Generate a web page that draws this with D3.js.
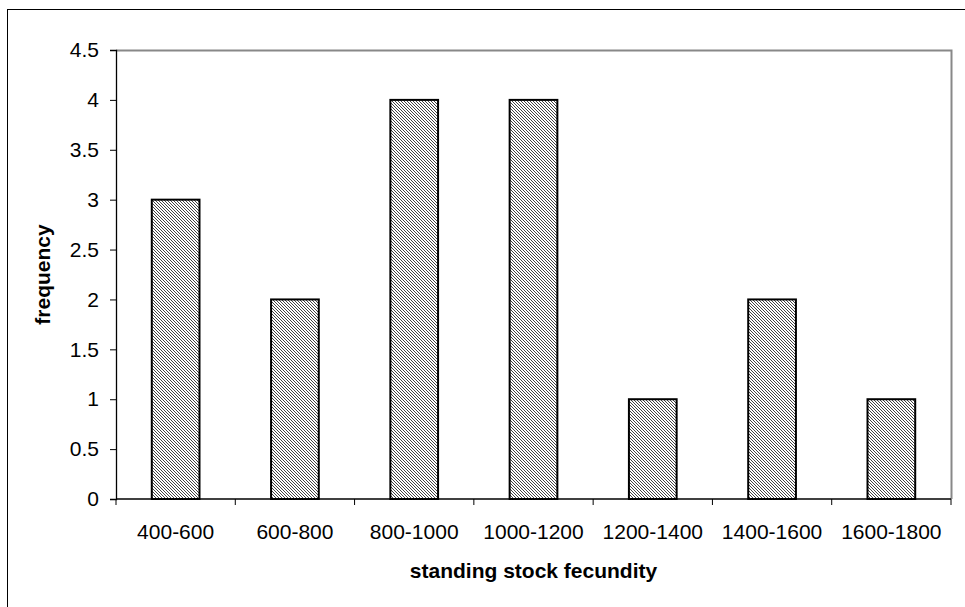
<!DOCTYPE html>
<html>
<head>
<meta charset="utf-8">
<script src="https://cdn.jsdelivr.net/npm/d3@7"></script>
<style>
  html, body { margin: 0; padding: 0; background: #fff; }
  svg { display: block; font-family: "Liberation Sans", Arial, sans-serif; }
</style>
</head>
<body>
<div id="chart"></div>
<script>
const categories = ["400-600", "600-800", "800-1000", "1000-1200", "1200-1400", "1400-1600", "1600-1800"];
const frequency = [3, 2, 4, 4, 1, 2, 1];
const yTicks = [0, 0.5, 1, 1.5, 2, 2.5, 3, 3.5, 4, 4.5];

const width = 965;
const height = 607;
const margin = { top: 50, right: 14, bottom: 108, left: 116 };

const svg = d3.select("#chart")
  .append("svg")
  .attr("width", width)
  .attr("height", height);

// outer chart border (right/bottom fall outside the window)
svg.append("rect")
  .attr("x", 7.5)
  .attr("y", 9.5)
  .attr("width", width)
  .attr("height", height)
  .attr("fill", "none")
  .attr("stroke", "#000")
  .attr("stroke-width", 1);

// diagonal hatch fill
const pattern = svg.append("defs")
  .append("pattern")
  .attr("id", "hatch")
  .attr("patternUnits", "userSpaceOnUse")
  .attr("width", 3)
  .attr("height", 3);
pattern.append("rect").attr("width", 3).attr("height", 3).attr("fill", "#fff");
pattern.append("path")
  .attr("d", "M-1,-1 L4,4 M-1,2 L1,4 M2,-1 L4,1")
  .attr("stroke", "#444")
  .attr("stroke-width", 1);

const x = d3.scaleBand()
  .domain(categories)
  .range([margin.left, width - margin.right])
  .paddingInner(0.6)
  .paddingOuter(0.3);

const xEdge = d3.scaleLinear()
  .domain([0, categories.length])
  .range([margin.left, width - margin.right]);

const y = d3.scaleLinear()
  .domain([0, 4.5])
  .range([height - margin.bottom, margin.top]);

// plot area frame (top/right in grey)
svg.append("path")
  .attr("d", `M${margin.left},${margin.top + 0.5} H${width - margin.right + 0.5} V${height - margin.bottom}`)
  .attr("fill", "none")
  .attr("stroke", "#888")
  .attr("stroke-width", 2);

svg.append("g")
  .selectAll("rect")
  .data(frequency)
  .join("rect")
  .attr("x", (d, i) => x(categories[i]))
  .attr("y", (d) => y(d))
  .attr("width", x.bandwidth())
  .attr("height", (d) => y(0) - y(d))
  .attr("fill", "url(#hatch)")
  .attr("stroke", "#000")
  .attr("stroke-width", 2);

// y axis
svg.append("g")
  .attr("transform", `translate(${margin.left},0)`)
  .call(d3.axisLeft(y).tickValues(yTicks).tickFormat(d3.format("")).tickSize(6).tickPadding(11))
  .call((g) => g.select(".domain").attr("stroke-width", 1.3))
  .call((g) => g.selectAll("text").attr("font-size", 21).attr("fill", "#000"));

// x axis with ticks at band edges
const xAxis = svg.append("g")
  .attr("transform", `translate(0,${height - margin.bottom})`);
xAxis.append("line")
  .attr("x1", margin.left)
  .attr("x2", width - margin.right)
  .attr("stroke", "#000")
  .attr("stroke-width", 1.3);
xAxis.selectAll("line.tick")
  .data(d3.range(categories.length + 1))
  .join("line")
  .attr("class", "tick")
  .attr("x1", (d) => xEdge(d))
  .attr("x2", (d) => xEdge(d))
  .attr("y1", 0)
  .attr("y2", 6)
  .attr("stroke", "#000");
xAxis.selectAll("text")
  .data(categories)
  .join("text")
  .attr("x", (d) => x(d) + x.bandwidth() / 2)
  .attr("y", 40)
  .attr("text-anchor", "middle")
  .attr("font-size", 21)
  .text((d) => d);

svg.append("text")
  .attr("x", (margin.left + width - margin.right) / 2)
  .attr("y", 578)
  .attr("text-anchor", "middle")
  .attr("font-size", 21)
  .attr("font-weight", "bold")
  .text("standing stock fecundity");

svg.append("text")
  .attr("transform", `translate(50,${(margin.top + height - margin.bottom) / 2}) rotate(-90)`)
  .attr("text-anchor", "middle")
  .attr("font-size", 21)
  .attr("font-weight", "bold")
  .text("frequency");
</script>
</body>
</html>
